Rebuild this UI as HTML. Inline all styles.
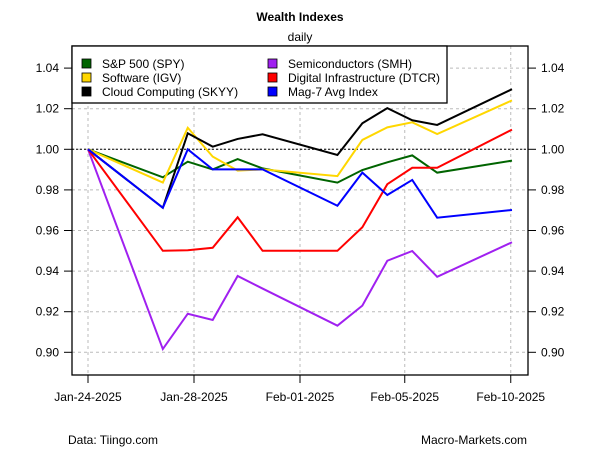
<!DOCTYPE html>
<html><head><meta charset="utf-8"><style>
body{margin:0;background:#fff;}
svg text{font-family:"Liberation Sans",Arial,sans-serif;}
</style></head><body>
<svg id="c" width="600" height="450" xmlns="http://www.w3.org/2000/svg">
<rect width="600" height="450" fill="#fff"/>
<text x="300" y="21" text-anchor="middle" font-size="12" font-weight="bold">Wealth Indexes</text>
<text x="300" y="41" text-anchor="middle" font-size="12">daily</text>
<g id="grid"></g>
<g id="axes"></g>
<g id="series"></g>
<rect x="72" y="46" width="456" height="329" fill="none" stroke="#000" stroke-width="1.3"/>
<g id="legend"></g>
<text x="68" y="444" font-size="12">Data: Tiingo.com</text>
<text x="527" y="444" text-anchor="end" font-size="12">Macro-Markets.com</text>
</svg>
<script>
const days = [0,3,4,5,6,7,10,11,12,13,14,17];
const spy  = [1,0.9862,0.9939,0.9901,0.9952,0.9906,0.9836,0.9898,0.9936,0.9970,0.9885,0.9944];
const igv  = [1,0.9836,1.0106,0.9964,0.9895,0.9901,0.9868,1.0046,1.0108,1.0133,1.0075,1.0241];
const skyy = [1,0.9712,1.0079,1.0013,1.0051,1.0074,0.9972,1.0128,1.0203,1.0143,1.0120,1.0296];
const smh  = [1,0.9016,0.9190,0.9159,0.9376,0.9314,0.9131,0.9230,0.9451,0.9499,0.9372,0.9542];
const dtcr = [1,0.9500,0.9503,0.9515,0.9665,0.9500,0.9500,0.9616,0.9828,0.9909,0.9909,1.0097];
const mag7 = [1,0.9712,1.0000,0.9901,0.9901,0.9901,0.9722,0.9885,0.9775,0.9849,0.9663,0.9701];
const yTicks = [0.90,0.92,0.94,0.96,0.98,1.00,1.02,1.04];
const xTickLabels = ["Jan-24-2025","Jan-28-2025","Feb-01-2025","Feb-05-2025","Feb-10-2025"];
const xTickDays = [0,4.25,8.5,12.7,16.95];

const NS="http://www.w3.org/2000/svg";
const X = d => 88 + d*(512-88)/17;
const Y = v => 149.3 - (v-1)*2030;
function mk(tag, attrs, parent){const e=document.createElementNS(NS,tag);for(const k in attrs)e.setAttribute(k,attrs[k]);document.getElementById(parent).appendChild(e);return e;}

yTicks.forEach((t,i)=>{
  const y=Y(t);
  const g=mk('line',{x1:72,x2:528,y1:y,y2:y,stroke:'#bbb','stroke-dasharray':'3,3'},'grid');
  
  
  mk('line',{x1:64,x2:72,y1:y,y2:y,stroke:'#000'},'axes');
  mk('line',{x1:528,x2:536,y1:y,y2:y,stroke:'#000'},'axes');
  const l=mk('text',{x:59,y:y+4,'text-anchor':'end','font-size':12},'axes');l.textContent=t.toFixed(2);
  
  
  const r=mk('text',{x:541,y:y+4,'font-size':12},'axes');r.textContent=t.toFixed(2);
  
  
});
xTickDays.forEach((d,i)=>{
  const x=X(d);
  const g=mk('line',{x1:x,x2:x,y1:46,y2:375,stroke:'#bbb','stroke-dasharray':'3,3'},'grid');
  
  
  mk('line',{x1:x,x2:x,y1:375,y2:383,stroke:'#000'},'axes');
  const l=mk('text',{x:x,y:401,'text-anchor':'middle','font-size':12},'axes');l.textContent=xTickLabels[i];
  
  
});
const ref=mk('line',{x1:72,x2:528,y1:Y(1),y2:Y(1),stroke:'#000','stroke-dasharray':'2,2'},'grid');



const series=[
 ['spy-line',spy,'#006400'],['igv-line',igv,'#FFD700'],['skyy-line',skyy,'#000'],
 ['smh-line',smh,'#A020F0'],['dtcr-line',dtcr,'#FF0000'],['mag7-line',mag7,'#0000FF']];
series.forEach(([n,vals,c])=>{
  const p=mk('polyline',{points:vals.map((v,i)=>X(days[i])+','+Y(v)).join(' '),fill:'none',stroke:c,'stroke-width':2},'series');
  
  
});

mk('rect',{x:72,y:46,width:375,height:57,fill:'#fff',stroke:'#000','stroke-width':1.3},'legend');
const leg=[['S&P 500 (SPY)','#006400',82,67],['Software (IGV)','#FFD700',82,81],['Cloud Computing (SKYY)','#000',82,95],
 ['Semiconductors (SMH)','#A020F0',268,67],['Digital Infrastructure (DTCR)','#FF0000',268,81],['Mag-7 Avg Index','#0000FF',268,95]];
leg.forEach(([t,c,x,y])=>{
  const s=mk('rect',{x:x,y:y-8,width:9,height:9,fill:c,stroke:'#000','stroke-width':0.8},'legend');
  
  
  const l=mk('text',{x:x+20,y:y+1,'font-size':12},'legend');l.textContent=t;
  
  
});
</script>
</body></html>
